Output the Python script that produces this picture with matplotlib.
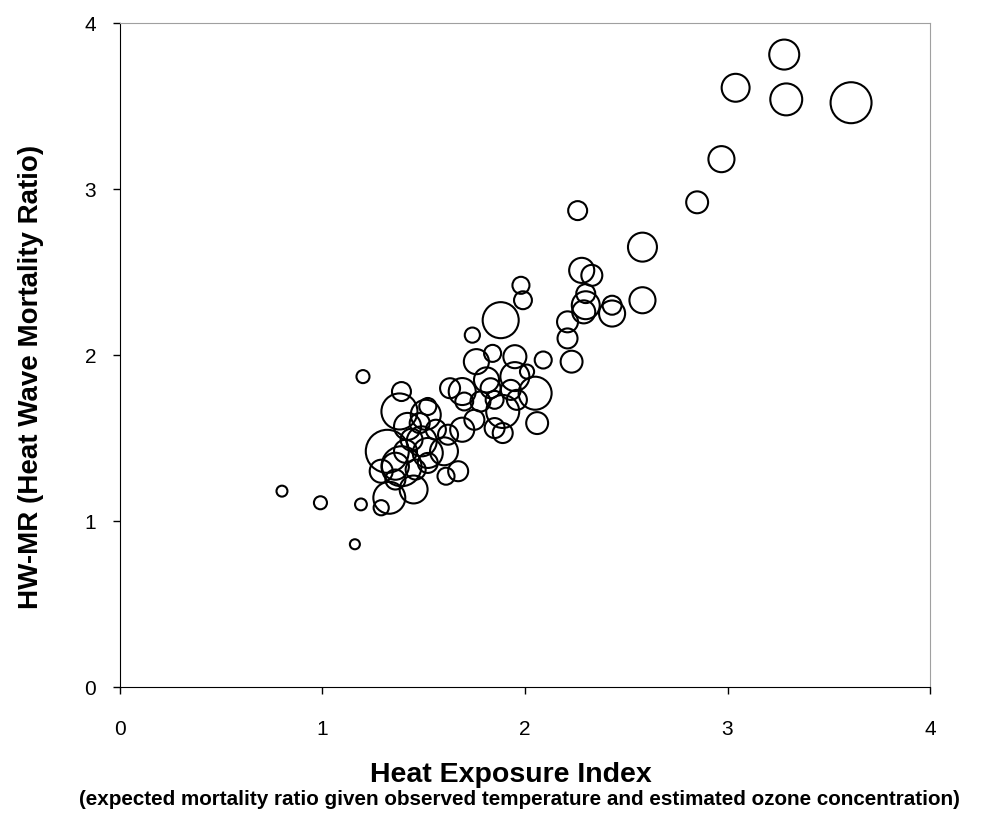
import matplotlib
matplotlib.use('Agg')
import matplotlib.pyplot as plt
import numpy as np

plt.rcParams['font.family'] = ['Liberation Sans', 'DejaVu Sans']

# heat exposure index (x), heat wave mortality ratio (y), relative bubble weight
hei = [0.80, 0.99, 1.19, 1.16, 1.20,
       1.29, 1.33, 1.45, 1.29, 1.36, 1.39, 1.32, 1.41, 1.38, 1.39,
       1.51, 1.52, 1.48, 1.49, 1.52, 1.52, 1.60, 1.62, 1.67, 1.61,
       1.42, 1.36, 1.44, 1.56, 1.46, 1.63, 1.69, 1.70, 1.78, 1.75,
       1.69, 1.83, 1.85, 1.93, 1.96, 1.89, 1.81, 1.95, 2.05, 2.06,
       1.85, 1.89, 1.76, 1.84, 1.95, 2.01, 2.09, 1.74, 1.88, 1.98,
       1.99, 2.21, 2.21, 2.23, 2.28, 2.33, 2.30, 2.30, 2.29, 2.43,
       2.43, 2.58, 2.58, 2.26, 2.85, 2.97, 3.04, 3.28, 3.29, 3.61]
hwmr = [1.18, 1.11, 1.10, 0.86, 1.87,
        1.08, 1.14, 1.19, 1.30, 1.33, 1.33, 1.42, 1.42, 1.66, 1.78,
        1.64, 1.69, 1.59, 1.48, 1.41, 1.35, 1.42, 1.52, 1.30, 1.27,
        1.57, 1.25, 1.49, 1.55, 1.31, 1.80, 1.78, 1.72, 1.72, 1.61,
        1.55, 1.80, 1.73, 1.79, 1.73, 1.66, 1.85, 1.87, 1.77, 1.59,
        1.56, 1.53, 1.96, 2.01, 1.99, 1.90, 1.97, 2.12, 2.21, 2.42,
        2.33, 2.20, 2.10, 1.96, 2.51, 2.48, 2.37, 2.30, 2.26, 2.30,
        2.25, 2.33, 2.65, 2.87, 2.92, 3.18, 3.61, 3.81, 3.54, 3.52]
weight = [1.2, 1.7, 1.4, 1.0, 1.7,
          2.3, 10.2, 7.8, 5.3, 7.3, 16.0, 18.5, 5.3, 13.0, 3.6,
          9.0, 2.9, 4.0, 9.0, 9.0, 4.0, 7.8, 4.0, 4.0, 2.9,
          7.3, 4.0, 4.8, 4.0, 4.0, 4.0, 7.3, 3.2, 4.0, 4.0,
          5.8, 4.0, 3.2, 4.0, 4.0, 10.9, 6.3, 8.4, 10.9, 4.8,
          4.0, 4.0, 6.3, 2.9, 5.3, 2.0, 2.9, 2.3, 13.0, 2.9,
          3.2, 4.4, 4.0, 4.8, 6.3, 4.4, 3.6, 7.8, 5.3, 3.6,
          6.8, 6.8, 8.4, 3.6, 4.8, 6.8, 7.8, 9.0, 10.2, 16.8]

fig = plt.figure(figsize=(9.93, 8.17), dpi=100)
ax = fig.add_axes([0.1208, 0.1591, 0.8158, 0.8127])

ax.scatter(hei, hwmr, s=np.array(weight) * 51.8, facecolors='none',
           edgecolors='black', linewidths=1.5, zorder=3, clip_on=False)

ax.set_xlim(0, 4)
ax.set_ylim(0, 4)
ax.set_xticks([0, 1, 2, 3, 4])
ax.set_yticks([0, 1, 2, 3, 4])
ax.tick_params(axis='both', direction='out', length=5, width=1, labelsize=15)
ax.tick_params(axis='x', pad=19)
ax.tick_params(axis='y', pad=12)

for s in ['top', 'right']:
    ax.spines[s].set_color('#a0a0a0')
for s in ['left', 'bottom']:
    ax.spines[s].set_color('black')

fig.text(0.031, 0.539, 'HW-MR (Heat Wave Mortality Ratio)', rotation=90,
         ha='center', va='center', fontsize=20, fontweight='bold')
fig.text(0.514, 0.052, 'Heat Exposure Index', ha='center', va='center',
         fontsize=20.5, fontweight='bold')
fig.text(0.523, 0.021, '(expected mortality ratio given observed temperature and estimated ozone concentration)',
         ha='center', va='center', fontsize=14.9, fontweight='bold')

plt.savefig('out.png', dpi=100)
